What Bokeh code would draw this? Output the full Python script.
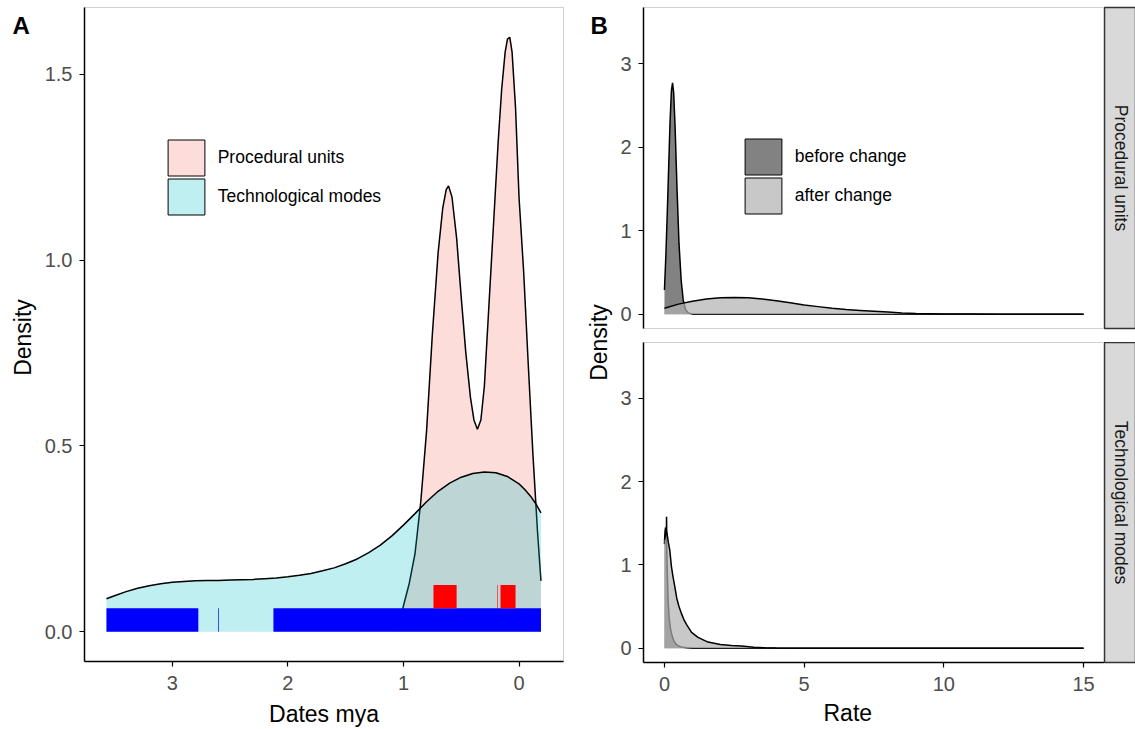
import math
import numpy as np
from bokeh.plotting import figure
from bokeh.models import (Range1d, FixedTicker, PrintfTickFormatter, Legend,
                          LegendItem, Label, ColumnDataSource, Title)
from bokeh.layouts import row, column
from bokeh.embed import file_html
from bokeh.resources import INLINE

# ---------------- Panel A data ----------------
proc_dates = [1.04, 1.00, 0.95, 0.90, 0.85, 0.80, 0.75, 0.70, 0.66, 0.63, 0.61, 0.58,
              0.54, 0.50, 0.46, 0.42, 0.39, 0.36, 0.33, 0.30, 0.26, 0.22, 0.18, 0.15,
              0.12, 0.10, 0.08, 0.06, 0.03, 0.00, -0.04, -0.08, -0.12, -0.16, -0.19]
proc_density = [0.02, 0.07, 0.13, 0.21, 0.35, 0.54, 0.80, 1.02, 1.14, 1.19, 1.20, 1.17,
                1.06, 0.90, 0.75, 0.63, 0.57, 0.545, 0.57, 0.66, 0.88, 1.10, 1.32, 1.46,
                1.56, 1.595, 1.60, 1.56, 1.41, 1.17, 0.97, 0.72, 0.48, 0.27, 0.137]
tech_dates = [3.57, 3.50, 3.40, 3.30, 3.20, 3.10, 3.00, 2.90, 2.80, 2.70, 2.60, 2.50,
              2.40, 2.30, 2.20, 2.10, 2.00, 1.90, 1.80, 1.70, 1.60, 1.50, 1.40, 1.30,
              1.20, 1.10, 1.00, 0.90, 0.80, 0.70, 0.60, 0.50, 0.40, 0.30, 0.20, 0.10,
              0.00, -0.05, -0.10, -0.15, -0.19]
tech_density = [0.089, 0.097, 0.108, 0.117, 0.124, 0.129, 0.133, 0.135, 0.137, 0.138,
                0.138, 0.139, 0.140, 0.141, 0.143, 0.145, 0.148, 0.152, 0.157, 0.164,
                0.172, 0.183, 0.196, 0.213, 0.233, 0.258, 0.287, 0.318, 0.350, 0.378,
                0.400, 0.416, 0.426, 0.430, 0.428, 0.418, 0.398, 0.383, 0.365, 0.342,
                0.320]
# rug intervals (older -> younger, mya)
proc_rug_from = [0.74, 0.188, 0.16]
proc_rug_to = [0.54, 0.183, 0.03]
tech_rug_from = [3.57, 2.603, 2.125]
tech_rug_to = [2.775, 2.597, -0.19]
groupsA = ["Procedural units", "Technological modes"]

# ---------------- Panel B data ----------------
facets = ["Procedural units", "Technological modes"]
phases = ["before change", "after change"]
pu_before_rate = [0.00, 0.05, 0.10, 0.15, 0.20, 0.25, 0.29, 0.33, 0.38, 0.45, 0.52, 0.60,
                  0.67, 0.75, 0.85, 1.0, 2.0, 5.0, 10.0, 15.0]
pu_before_dens = [0.29, 0.70, 1.20, 1.75, 2.30, 2.68, 2.77, 2.65, 2.25, 1.50, 0.85, 0.40,
                  0.17, 0.06, 0.015, 0.0, 0.0, 0.0, 0.0, 0.0]
pu_after_rate = [0.0, 0.5, 1.0, 1.5, 2.0, 2.5, 3.0, 3.5, 4.0, 4.5, 5.0, 5.5, 6.0, 6.5,
                 7.0, 7.5, 8.0, 8.5, 9.0, 10.0, 11.0, 12.0, 15.0]
pu_after_dens = [0.07, 0.12, 0.155, 0.18, 0.195, 0.20, 0.195, 0.18, 0.16, 0.135, 0.11,
                 0.09, 0.07, 0.055, 0.045, 0.035, 0.025, 0.015, 0.008, 0.003, 0.001,
                 0.0, 0.0]
tm_before_rate = [0.00, 0.02, 0.04, 0.07, 0.10, 0.13, 0.17, 0.21, 0.25, 0.32, 0.40, 0.49,
                  0.60, 0.80, 1.0, 5.0, 10.0, 15.0]
tm_before_dens = [1.25, 1.40, 1.45, 1.35, 0.95, 0.58, 0.36, 0.25, 0.18, 0.10, 0.055, 0.03,
                  0.015, 0.005, 0.0, 0.0, 0.0, 0.0]
tm_after_rate = [0.00, 0.04, 0.07, 0.075, 0.08, 0.10, 0.14, 0.19, 0.25, 0.31, 0.37, 0.44,
                 0.52, 0.61, 0.70, 0.80, 0.97, 1.20, 1.56, 2.00, 2.40, 2.76, 3.20, 3.60,
                 4.00, 5.0, 10.0, 15.0]
tm_after_dens = [1.30, 1.36, 1.42, 1.58, 1.42, 1.36, 1.27, 1.18, 0.98, 0.85, 0.74, 0.60,
                 0.50, 0.415, 0.34, 0.28, 0.19, 0.13, 0.073, 0.045, 0.033, 0.025, 0.012,
                 0.004, 0.001, 0.0, 0.0, 0.0]

FONT = "Liberation Sans"
TICK_COLOR = "#4D4D4D"
PINK, CYAN = "#F8766D", "#00BFC4"
BEFORE_FILL, AFTER_FILL = "#828282", "#B0B0B0"
TICK_SIZE = "20px"
TITLE_SIZE = "23px"
H = 729


def style(p):
    p.xgrid.visible = False
    p.ygrid.visible = False
    p.outline_line_color = "#D0D0D0"
    p.outline_line_width = 1
    for ax in p.axis:
        ax.axis_line_color = "black"
        ax.axis_line_width = 1.5
        ax.major_tick_line_color = "black"
        ax.major_tick_line_width = 1.2
        ax.major_tick_out = 5
        ax.major_tick_in = 0
        ax.minor_tick_line_color = None
        ax.major_label_text_font = FONT
        ax.major_label_text_font_size = TICK_SIZE
        ax.major_label_text_color = TICK_COLOR
        ax.axis_label_text_font = FONT
        ax.axis_label_text_font_size = TITLE_SIZE
        ax.axis_label_text_font_style = "normal"
        ax.axis_label_text_color = "black"
    p.xaxis.major_label_standoff = 9
    p.xaxis.axis_label_standoff = 8
    p.yaxis.major_label_standoff = 7


def dummy_src():
    return ColumnDataSource(dict(l=np.array([np.nan]), r=np.array([np.nan]),
                                 b=np.array([np.nan]), t=np.array([np.nan])))


def one_legend(p, label, rend, x, y):
    leg = Legend(items=[LegendItem(label=label, renderers=[rend])],
                 location=(x, y), glyph_width=46, glyph_height=45, spacing=0,
                 padding=0, margin=0, label_standoff=9, label_text_font=FONT,
                 label_text_font_size="17.5px", label_text_color="black",
                 border_line_color=None, background_fill_alpha=0)
    p.add_layout(leg)


def label_fig(width):
    f = figure(frame_width=width, frame_height=H, min_border=0, x_axis_location=None,
               y_axis_location=None, x_range=Range1d(0, 1), y_range=Range1d(0, 1),
               output_backend="svg", toolbar_location=None)
    f.outline_line_color = None
    f.xgrid.visible = False
    f.ygrid.visible = False
    return f


def add_texts(f, letter, lx, dx, dy):
    f.add_layout(Label(x=lx, y=H - 4, x_units="screen", y_units="screen", text=letter,
                       text_font=FONT, text_font_style="bold", text_font_size="24px",
                       text_baseline="top", text_align="left", text_color="black"))
    f.add_layout(Label(x=dx, y=H - dy, x_units="screen", y_units="screen",
                       text="Density", angle=math.pi / 2, text_font=FONT,
                       text_font_size=TITLE_SIZE, text_baseline="middle",
                       text_align="center", text_color="black"))

# ---------------- Panel A ----------------
pLA = label_fig(40)
add_texts(pLA, "A", 12, 22, 330)

pA = figure(frame_width=479, frame_height=654, min_border_left=44, min_border_right=23,
            min_border_top=7, min_border_bottom=68,
            x_range=Range1d(3.76, -0.385), y_range=Range1d(-0.08, 1.68),
            output_backend="svg", toolbar_location=None)
pA.xaxis.axis_label = "Dates mya"
pA.xaxis.ticker = FixedTicker(ticks=[0, 1, 2, 3])
pA.yaxis.ticker = FixedTicker(ticks=[0, 0.5, 1.0, 1.5])
pA.yaxis.formatter = PrintfTickFormatter(format="%.1f")
style(pA)

pA.varea(x=proc_dates, y1=0, y2=proc_density, fill_color=PINK, fill_alpha=0.25)
pA.line(x=proc_dates, y=proc_density, line_color="black", line_width=1.5)
pA.varea(x=tech_dates, y1=0, y2=tech_density, fill_color=CYAN, fill_alpha=0.25)
pA.line(x=tech_dates, y=tech_density, line_color="black", line_width=1.5)

pA.quad(left=tech_rug_from, right=tech_rug_to, bottom=0.0, top=0.063,
        fill_color="#0000FF", line_color=None)
pA.quad(left=proc_rug_from, right=proc_rug_to, bottom=0.063, top=0.126,
        fill_color="#FF0000", line_color=None)

legA_p = pA.quad(left="l", right="r", bottom="b", top="t", source=dummy_src(),
                 fill_color=PINK, fill_alpha=0.25, line_color="black", line_width=1)
legA_t = pA.quad(left="l", right="r", bottom="b", top="t", source=dummy_src(),
                 fill_color=CYAN, fill_alpha=0.25, line_color="black", line_width=1)
one_legend(pA, groupsA[0], legA_p, 78.7, 481)
one_legend(pA, groupsA[1], legA_t, 78.7, 442)

# ---------------- Panel B label column ----------------
pL = label_fig(31)
add_texts(pL, "B", 4, 12, 335)

# ---------------- Panel B facets ----------------
xrB = Range1d(-0.75, 15.75)


def facet(frame_h, top_border, bottom_border, show_x, before_r, before_d, after_r, after_d):
    p = figure(frame_width=461, frame_height=frame_h, min_border_left=25,
               min_border_right=0, min_border_top=top_border,
               min_border_bottom=bottom_border,
               x_range=xrB, y_range=Range1d(-0.172, 3.672),
               output_backend="svg", toolbar_location=None)
    p.xaxis.ticker = FixedTicker(ticks=[0, 5, 10, 15])
    p.yaxis.ticker = FixedTicker(ticks=[0, 1, 2, 3])
    style(p)
    if show_x:
        p.add_layout(Title(text="Rate", align="left", offset=180, standoff=8,
                           text_font=FONT, text_font_size=TITLE_SIZE,
                           text_font_style="normal", text_color="black"), "below")
    else:
        p.xaxis.visible = False
    p.varea(x=before_r, y1=0, y2=before_d, fill_color=BEFORE_FILL, fill_alpha=1.0)
    p.line(x=before_r, y=before_d, line_color="black", line_width=1.5)
    p.varea(x=after_r, y1=0, y2=after_d, fill_color=AFTER_FILL, fill_alpha=0.7)
    p.line(x=after_r, y=after_d, line_color="black", line_width=1.5)
    return p


pB1 = facet(321, 7, 14, False, pu_before_rate, pu_before_dens, pu_after_rate, pu_after_dens)
pB2 = facet(320, 0, 67, True, tm_before_rate, tm_before_dens, tm_after_rate, tm_after_dens)

legB_b = pB1.quad(left="l", right="r", bottom="b", top="t", source=dummy_src(),
                  fill_color=BEFORE_FILL, fill_alpha=1.0, line_color="black", line_width=1)
legB_a = pB1.quad(left="l", right="r", bottom="b", top="t", source=dummy_src(),
                  fill_color=AFTER_FILL, fill_alpha=0.7, line_color="black", line_width=1)
one_legend(pB1, phases[0], legB_b, 96.7, 149)
one_legend(pB1, phases[1], legB_a, 96.7, 110)


def strip(frame_h, top_border, bottom_border, text):
    s = figure(frame_width=32, frame_height=frame_h, min_border=0,
               min_border_top=top_border, min_border_bottom=bottom_border,
               x_axis_location=None, y_axis_location=None,
               x_range=Range1d(0, 1), y_range=Range1d(0, 1),
               output_backend="svg", toolbar_location=None)
    s.xgrid.visible = False
    s.ygrid.visible = False
    s.background_fill_color = "#D9D9D9"
    s.outline_line_color = "#333333"
    s.outline_line_width = 1.5
    s.add_layout(Label(x=0.5, y=0.5, text=text, angle=-math.pi / 2, text_font=FONT,
                       text_font_size="17.5px", text_align="center",
                       text_baseline="middle", text_color="#1A1A1A"))
    return s


s1 = strip(321, 7, 14, facets[0])
s2 = strip(320, 0, 67, facets[1])

layout = row(pLA, pA, pL, column(row(pB1, s1), row(pB2, s2)))

open("out.html", "w").write(file_html(layout, INLINE))
